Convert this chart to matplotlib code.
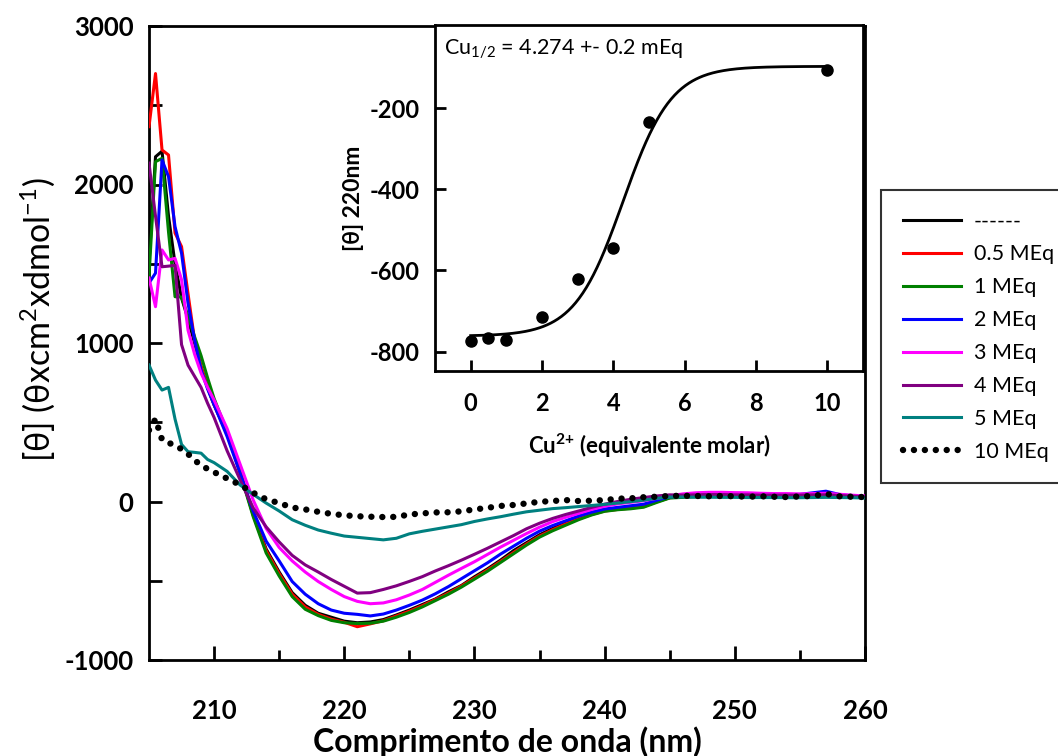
import numpy as np
import matplotlib
matplotlib.use("Agg")
import matplotlib.pyplot as plt

plt.rcParams['font.family'] = ['Lato', 'DejaVu Sans']
plt.rcParams['axes.unicode_minus'] = False

# ---------------- data ----------------
wavelength = [205, 205.5, 206, 206.5, 207, 207.5, 208, 208.5, 209, 209.5, 210] + list(range(211, 261))

s_control = [1500, 2175, 2210, 1800, 1500, 1284, 1150, 1000, 850, 720, 610,
             430, 190, -80, -300, -445, -575, -655, -705, -730, -755,
             -765, -760, -745, -716, -685, -650, -615, -570, -530, -475,
             -425, -370, -310, -260, -210, -170, -135, -100, -75, -55,
             -45, -38, -30, 0, 25,
             30, 35, 38, 40, 40, 40, 38, 38, 36, 35, 38, 42, 38, 30, 25]
s_05 = [2365, 2700, 2218, 2186, 1694, 1608, 1310, 1019, 850, 720, 610,
        425, 185, -85, -310, -455, -585, -665, -712, -742, -762,
        -790, -772, -752, -722, -692, -657, -618, -578, -533, -483,
        -432, -378, -322, -268, -218, -178, -142, -110, -82, -60,
        -50, -42, -32, -2, 24,
        28, 33, 36, 38, 40, 38, 36, 36, 35, 34, 38, 40, 36, 30, 26]
s_1 = [1418, 2144, 2165, 1700, 1292, 1290, 1170, 1040, 920, 780, 650,
       440, 180, -95, -325, -470, -600, -680, -720, -750, -765,
       -770, -768, -755, -730, -700, -665, -625, -585, -540, -490,
       -440, -385, -330, -275, -225, -185, -150, -115, -85, -62,
       -52, -46, -36, -6, 22,
       26, 30, 32, 34, 36, 35, 34, 33, 32, 32, 34, 36, 32, 28, 24]
s_2 = [1378, 1441, 2155, 2049, 1734, 1567, 1250, 1020, 830, 710, 610,
       410, 178, -60, -250, -375, -505, -585, -645, -685, -705,
       -712, -722, -710, -685, -655, -622, -582, -537, -487, -437,
       -387, -332, -282, -232, -187, -152, -122, -92, -67, -47,
       -37, -27, -17, 8, 30,
       35, 40, 42, 44, 45, 44, 42, 42, 42, 45, 55, 65, 45, 35, 30]
s_3 = [1410, 1229, 1587, 1524, 1534, 1400, 1080, 930, 810, 720, 640,
       460, 235, 10, -170, -290, -375, -445, -505, -555, -600,
       -630, -645, -640, -620, -590, -555, -510, -465, -422, -380,
       -334, -288, -245, -202, -162, -127, -100, -75, -50, -30,
       -15, -5, 5, 20, 35,
       48, 55, 58, 58, 56, 55, 52, 50, 50, 48, 50, 52, 46, 40, 35]
s_4 = [2135, 1800, 1481, 1485, 1490, 990, 860, 790, 720, 620, 530,
       320, 136, -40, -160, -255, -340, -400, -445, -492, -535,
       -578, -575, -555, -532, -504, -474, -438, -405, -370, -333,
       -295, -255, -215, -172, -137, -107, -82, -60, -37, -17,
       0, 14, 25, 35, 42,
       40, 42, 44, 44, 42, 42, 40, 40, 40, 40, 42, 42, 38, 34, 30]
s_5 = [861, 766, 703, 720, 520, 360, 314, 310, 305, 265, 245,
       190, 104, 45, -10, -60, -115, -150, -180, -200, -218,
       -226, -234, -242, -232, -204, -188, -174, -160, -146, -126,
       -110, -96, -80, -65, -55, -45, -39, -32, -25, -18,
       -10, -1, 8, 20, 28,
       28, 27, 27, 26, 26, 25, 25, 25, 24, 24, 25, 26, 25, 24, 22]
s_10 = [450, 520, 390, 370, 355, 330, 300, 260, 230, 205, 185,
        145, 105, 55, 14, -10, -38, -50, -65, -78, -87,
        -93, -96, -98, -97, -82, -75, -69, -68, -62, -50,
        -40, -28, -22, -12, -2, 3, 9, 3, 5, 9,
        18, 20, 27, 30, 35,
        36, 35, 33, 35, 33, 30, 33, 30, 28, 32, 35, 48, 33, 30, 28]

series_labels = ['------', '0.5 MEq', '1 MEq', '2 MEq', '3 MEq', '4 MEq', '5 MEq', '10 MEq']
series_colors = ['#000000', '#FF0000', '#008000', '#0000FF', '#FF00FF', '#800080', '#008080', '#000000']

# inset data
cu_eq = [0, 0.5, 1, 2, 3, 4, 5, 10]
theta_220 = [-775, -767, -771, -714, -621, -545, -235, -105]
# Boltzmann fit parameters
fit_bottom = -762
fit_top = -97
fit_x50 = 4.274
fit_slope = 0.68

# ---------------- figure ----------------
W, H = 1058, 756
fig = plt.figure(figsize=(W / 100, H / 100), dpi=100)

ax = fig.add_axes([149 / W, 1 - 660 / H, (865 - 149) / W, (660 - 26) / H])
all_series = [s_control, s_05, s_1, s_2, s_3, s_4, s_5, s_10]
handles = []
for vals, lab, col in zip(all_series, series_labels, series_colors):
    if lab == '10 MEq':
        h, = ax.plot(wavelength, vals, color=col, lw=4.6, linestyle=(0, (0.01, 1.7)),
                     dash_capstyle='round', label=lab, zorder=5)
    else:
        h, = ax.plot(wavelength, vals, color=col, lw=2.2, label=lab, zorder=3)
    handles.append(h)

ax.set_xlim(205, 260)
ax.set_ylim(-1000, 3000)
ax.set_xticks([210, 220, 230, 240, 250, 260])
ax.set_xticks([215, 225, 235, 245, 255], minor=True)
ax.set_yticks([-1000, 0, 1000, 2000, 3000])
ax.set_yticks([-500, 500, 1500, 2500], minor=True)
for sp in ax.spines.values():
    sp.set_linewidth(2.0)
ax.tick_params(axis='both', which='both', direction='in', width=2.0)
ax.tick_params(axis='x', which='major', length=10, pad=28)
ax.tick_params(axis='x', which='minor', length=7)
ax.tick_params(axis='y', which='major', length=9, pad=11)
ax.tick_params(axis='y', which='minor', length=9)
for lbl in ax.get_xticklabels() + ax.get_yticklabels():
    lbl.set_fontsize(18.5)
    lbl.set_fontweight('bold')

ax.set_xlabel('Comprimento de onda (nm)', fontsize=23, fontweight='bold', va='center')
ax.xaxis.set_label_coords(0.5, (660 - 742) / (660 - 26))
ax.set_ylabel('[θ] (θxcm$\\mathregular{^{2}}$xdmol$\\mathregular{^{-1}}$)', fontsize=24.5, va='center')
ax.yaxis.set_label_coords((38 - 149) / (865 - 149), (660 - 320) / (660 - 26))

# legend
leg = fig.legend(handles=handles, loc='upper left',
                 bbox_to_anchor=(881 / W, 1 - 190 / H), fontsize=15.5,
                 frameon=True, fancybox=False, edgecolor='black',
                 handlelength=2.7, handletextpad=0.6, labelspacing=0.6,
                 borderpad=1.0, borderaxespad=0)
leg.get_frame().set_linewidth(1.5)

# ---------------- inset ----------------
ins = fig.add_axes([435 / W, 1 - 371 / H, (863 - 435) / W, (371 - 25) / H])
ins.set_zorder(10)
ins.set_facecolor('white')
xf = np.linspace(0, 10, 300)
yf = fit_top + (fit_bottom - fit_top) / (1 + np.exp((xf - fit_x50) / fit_slope))
ins.plot(xf, yf, color='black', lw=2.0)
ins.plot(cu_eq, theta_220, 'o', color='black', ms=8)
ins.set_xlim(-1, 11)
ins.set_ylim(-848, 5)
ins.set_xticks([0, 2, 4, 6, 8, 10])
ins.set_yticks([-800, -600, -400, -200])
for sp in ins.spines.values():
    sp.set_linewidth(2.0)
ins.tick_params(axis='both', which='both', direction='in', width=2.0, length=8)
ins.tick_params(axis='x', pad=15)
ins.tick_params(axis='y', pad=11)
for lbl in ins.get_xticklabels() + ins.get_yticklabels():
    lbl.set_fontsize(17)
    lbl.set_fontweight('bold')
ins.set_xlabel('Cu$\\mathregular{^{2{+}}}$ (equivalente molar)', fontsize=16, fontweight='bold', va='center')
ins.xaxis.set_label_coords(0.5, (371 - 446) / (371 - 25))
ins.set_ylabel('[θ] 220nm', fontsize=16.5, fontweight='bold')
ins.text(0.02, 0.965, 'Cu$\\mathregular{_{1/2}}$ = 4.274 +- 0.2 mEq', transform=ins.transAxes,
         fontsize=15.5, ha='left', va='top')

fig.savefig('out.png', dpi=100)
